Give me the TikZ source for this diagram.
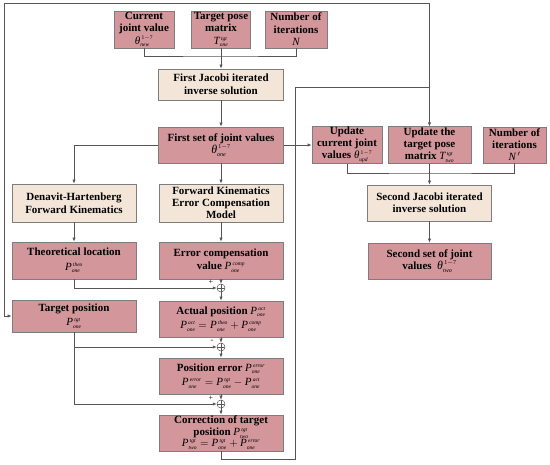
\documentclass[tikz,border=0pt]{standalone}
\usepackage{amsmath}
\usepackage{fontspec}
\setmainfont{Liberation Serif}
\usetikzlibrary{arrows.meta}
\definecolor{pinkfill}{RGB}{210,150,155}
\definecolor{beigefill}{RGB}{243,230,217}
\definecolor{boxline}{RGB}{125,125,125}
\definecolor{lincol}{RGB}{85,85,85}
\newcommand{\vi}[1]{\textnormal{\itshape #1}}
\newcommand{\vv}[3]{\ensuremath{\vi{#1}^{\scriptscriptstyle\,\vi{#3}}_{\scriptscriptstyle\vi{#2}}}}
\newcommand{\thv}[1]{\ensuremath{\vi{θ}^{\scriptscriptstyle\,\textnormal{1}-\textnormal{7}}_{\scriptscriptstyle\vi{#1}}}}
\tikzset{
  pbox/.style={draw=boxline, fill=pinkfill, line width=0.7pt, align=center, inner sep=1pt,
    font=\fontsize{11}{12.5}\selectfont\bfseries, minimum width=#1},
  bbox/.style={draw=boxline, fill=beigefill, line width=0.7pt, align=center, inner sep=1pt,
    font=\fontsize{11}{12.5}\selectfont\bfseries, minimum width=#1},
  arr/.style={-{Latex[length=4pt,width=3.2pt]}, line width=0.6pt, draw=lincol},
  ln/.style={line width=0.6pt, draw=lincol},
  sumc/.style={circle, draw=lincol, fill=white, line width=0.5pt, minimum size=8pt, inner sep=0pt,
    path picture={\draw[lincol, line width=0.5pt] (path picture bounding box.north)--(path picture bounding box.south)
      (path picture bounding box.west)--(path picture bounding box.east);}},
  sgn/.style={font=\fontsize{8}{8}\selectfont, inner sep=0pt}
}
\begin{document}
\begin{tikzpicture}[x=1pt,y=-1pt]
\useasboundingbox (0,0) rectangle (550,465);
% top inputs
\node[pbox=60pt, minimum height=37pt] (cur) at (144,29.5) {Current\\joint value\\\thv{new}};
\node[pbox=59pt, minimum height=37pt] (tpm) at (221,29.5) {Target pose\\matrix\\\vv{T}{one}{tgt}};
\node[pbox=62pt, minimum height=37pt] (num) at (296,29.5) {Number of\\iterations\\\ensuremath{\vi{N}}};
\node[bbox=125pt, minimum height=31pt] (jac1) at (221,84.5) {First Jacobi iterated\\inverse solution};
\node[pbox=125pt, minimum height=36pt] (fs) at (221,145) {First set of joint values\\{\large\thv{one}}};
% left column
\node[bbox=124pt, minimum height=38pt] (dh) at (74,203) {Denavit-Hartenberg\\Forward Kinematics};
\node[pbox=124pt, minimum height=37pt] (theo) at (74,260.5) {Theoretical location\\[2pt]\vv{P}{one}{theo}};
\node[pbox=124pt, minimum height=32pt] (tp) at (74,316) {Target position\\[2pt]\vv{P}{one}{tgt}};
% center column
\node[bbox=124pt, minimum height=38pt, font=\fontsize{11}{12}\selectfont\bfseries] (fkec) at (221,203) {Forward Kinematics\\Error Compensation\\Model};
\node[pbox=124pt, minimum height=37pt] (ecv) at (221,260.5) {Error compensation\\[1pt]value \vv{P}{one}{comp}};
\node[sumc] (c1) at (221,288) {};
\node[pbox=124pt, minimum height=36pt] (act) at (221,319) {Actual position \vv{P}{one}{act}\\[2pt]\ensuremath{\vv{P}{one}{act}=\vv{P}{one}{theo}+\vv{P}{one}{comp}}};
\node[sumc] (c2) at (221,347) {};
\node[pbox=124pt, minimum height=36pt] (pe) at (221,376) {Position error \vv{P}{one}{error}\\[2pt]\ensuremath{\vv{P}{one}{error}=\vv{P}{one}{tgt}-\vv{P}{one}{act}}};
\node[sumc] (c3) at (221,404) {};
\node[pbox=124pt, minimum height=36pt, font=\fontsize{11}{11.5}\selectfont\bfseries] (cor) at (221,433) {Correction of target\\position \vv{P}{two}{tgt}\\\ensuremath{\vv{P}{two}{tgt}=\vv{P}{one}{tgt}+\vv{P}{one}{error}}};
% right side
\node[pbox=70pt, minimum height=36pt, font=\fontsize{11}{12}\selectfont\bfseries] (upc) at (347,145) {Update\\current joint\\values \thv{upd}};
\node[pbox=83pt, minimum height=36pt, font=\fontsize{11}{12}\selectfont\bfseries] (utp) at (429.5,145) {Update the\\target pose\\matrix \vv{T}{two}{tgt}};
\node[pbox=63pt, minimum height=36pt, font=\fontsize{11}{12}\selectfont\bfseries] (nit) at (514.5,145) {Number of\\iterations\\\ensuremath{\vi{N}\,'}};
\node[bbox=124pt, minimum height=36pt] (jac2) at (429.5,203) {Second Jacobi iterated\\inverse solution};
\node[pbox=123pt, minimum height=36pt] (ss) at (429.5,261) {Second set of joint\\values \ {\large\thv{two}}};
% signs
\node[sgn] (s1) at (211,282) {+};
\node[sgn] (s2) at (212,341) {-};
\node[sgn] (s3) at (211,398) {+};
% coordinates
\coordinate (tj) at (221,56);
\coordinate (rj) at (429.5,173);
\coordinate (tl) at (4,3);
\coordinate (br) at (295,459);
\coordinate (jn) at (429.5,87);
% connectors
\draw[ln] (cur.south) |- (tj) -| (num.south);
\draw[arr] (tpm.south) -- (jac1.north);
\draw[arr] (jac1.south) -- (fs.north);
\draw[arr] (fs.south) -- (fkec.north);
\draw[arr] (fs.west) -| (dh.north);
\draw[arr] (dh.south) -- (theo.north);
\draw[arr] (fkec.south) -- (ecv.north);
\draw[arr] (theo.south) |- (c1.west);
\draw[arr] (ecv.south) -- (c1.north);
\draw[arr] (c1.south) -- (act.north);
\draw[arr] (act.south) -- (c2.north);
\draw[arr] (tp.south) |- (c2.west);
\draw[arr] (tp.south) |- (c3.west);
\draw[arr] (c2.south) -- (pe.north);
\draw[arr] (pe.south) -- (c3.north);
\draw[arr] (c3.south) -- (cor.north);
\draw[ln] (cor.south) |- (br) |- (jn);
\draw[ln, {Latex[length=4pt,width=3.2pt]}-{Latex[length=4pt,width=3.2pt]}] (tp.west) -| (tl) -| (utp.north);
\draw[arr] (fs.east) -- (upc.west);
\draw[ln] (upc.south) |- (rj) -| (nit.south);
\draw[arr] (utp.south) -- (jac2.north);
\draw[arr] (jac2.south) -- (ss.north);
\end{tikzpicture}
\end{document}
